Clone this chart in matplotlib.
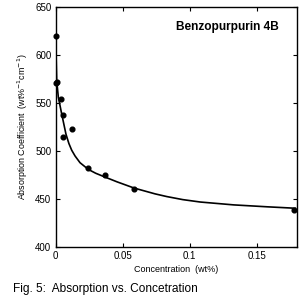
import numpy as np
from matplotlib import pyplot as plt

plt.rcParams['font.family'] = ['Liberation Sans', 'DejaVu Sans']

conc = [0.0, 0.0003, 0.0009, 0.0039, 0.0058, 0.0058, 0.0121, 0.0245, 0.0372, 0.0588, 0.178]
absorb = [620, 571, 572, 554, 537, 514.5, 523, 482, 475, 460, 438]

# fitted curve, sampled off the figure
fit_x = [0.0005, 0.0009, 0.0021, 0.0046, 0.0078, 0.0100, 0.0121, 0.0146, 0.0183, 0.0245,
         0.030, 0.037, 0.046, 0.0588, 0.0743, 0.083, 0.095, 0.108, 0.133, 0.158, 0.179]
fit_y = [596, 573, 556, 538.5, 517.3, 507.5, 500.5, 494.5, 487.5, 480.5,
         476.5, 472.5, 467.5, 461, 455, 452.2, 449, 446.5, 443.5, 441.5, 440]

fig = plt.figure(figsize=(3, 3), dpi=100)
ax = fig.add_axes([0.185, 0.178, 0.804, 0.799])

ax.plot(fit_x, fit_y, color='black', lw=1.2, solid_joinstyle='round')
ax.plot(conc, absorb, 'o', color='black', ms=3.4, clip_on=False, zorder=3)

ax.set_xlim(0, 0.18)
ax.set_ylim(400, 650)
ax.set_xticks([0, 0.05, 0.1, 0.15])
ax.set_xticklabels(['0', '0.05', '0.1', '0.15'])
ax.set_yticks([400, 450, 500, 550, 600, 650])
ax.tick_params(direction='in', top=True, right=True, length=3, width=0.8,
               labelsize=7, pad=3)
for s in ax.spines.values():
    s.set_linewidth(1.0)

ax.set_xlabel('Concentration  (wt%)', fontsize=6.5, labelpad=3)
ax.set_ylabel('Absorption Coefficient  (wt%$^{-1}$cm$^{-1}$)', fontsize=6.4, labelpad=4)

ax.text(0.927, 0.917, 'Benzopurpurin 4B', transform=ax.transAxes, ha='right', va='center',
        fontsize=8.6, fontweight='bold')

fig.text(0.043, 0.036, 'Fig. 5:  Absorption vs. Concetration', fontsize=8.6, va='center')

fig.savefig('out.png', dpi=100)
